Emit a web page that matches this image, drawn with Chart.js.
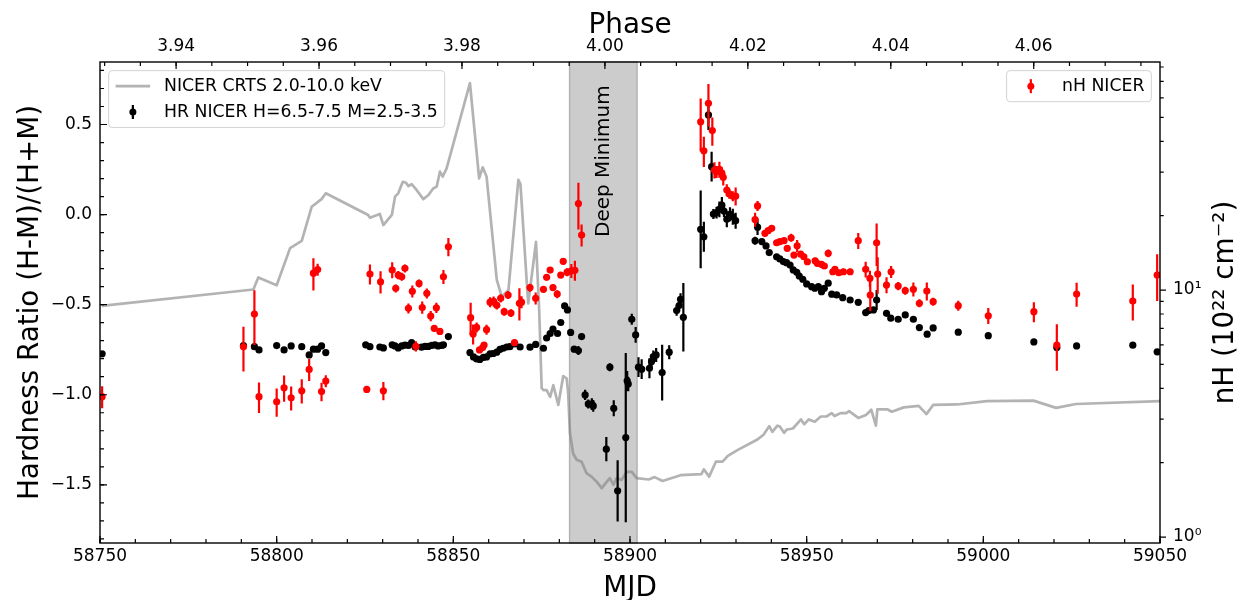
<!DOCTYPE html>
<html><head><meta charset="utf-8">
<script src="https://cdn.jsdelivr.net/npm/chart.js@4.4.1/dist/chart.umd.min.js"></script>
<style>html,body{margin:0;padding:0;background:#fff;}canvas{display:block;}</style>
</head><body>
<canvas id="c" width="1241" height="600"></canvas>
<script>
// ---------------- data ----------------
const crtsLabel = 'NICER CRTS 2.0-10.0 keV';
const crtsMjd = [58750.5,58793.4,58794.8,58800.0,58803.8,58807.1,58809.9,58812.7,58813.9,58825.9,58826.4,58829.2,58830.2,58832.6,58833.5,58834.4,58835.7,58836.6,58837.3,58838.2,58839.6,58841.5,58842.9,58844.3,58845.3,58846.2,58847.0,58848.1,58854.7,58857.3,58858.3,58859.4,58862.3,58863.7,58865.6,58868.4,58869.0,58870.8,58871.2,58873.4,58874.3,58875.0,58875.5,58876.4,58877.4,58878.3,58879.7,58881.1,58882.1,58882.5,58883.0,58883.9,58884.9,58886.3,58887.7,58889.1,58890.6,58892.0,58893.4,58894.3,58895.3,58896.2,58897.6,58899.1,58900.5,58901.9,58905.3,58907.0,58909.2,58914.3,58920.2,58920.9,58922.4,58924.3,58926.2,58927.7,58930.4,58935.8,58937.8,58939.4,58940.3,58941.7,58942.4,58943.6,58944.4,58946.1,58948.4,58949.3,58950.6,58952.3,58954.0,58955.6,58957.1,58957.9,58959.6,58961.2,58962.0,58964.6,58966.8,58968.3,58969.6,58970.0,58972.8,58974.1,58977.5,58981.7,58983.9,58985.8,58992.6,59001.0,59014.2,59020.6,59026.2,59050.0];
const crtsRate = [49.3,52.7,55.2,53.6,61.3,62.8,69.9,71.5,72.7,68.2,67.6,68.4,66.1,68.2,72.0,72.7,75.1,74.9,74.2,74.6,73.4,71.5,72.3,73.7,74.1,77.2,76.2,77.9,95.6,75.8,78.1,76.2,54.7,51.2,52.6,75.5,74.6,54.0,49.8,62.6,48.4,32.2,31.8,31.8,30.4,32.8,28.7,34.7,34.2,31.1,22.9,18.6,17.3,16.9,14.5,13.8,12.7,11.4,12.7,13.5,12.1,13.5,13.1,14.8,14.8,13.5,13.2,13.7,12.9,14.1,14.3,15.3,13.8,16.9,16.9,18.1,19.3,21.4,22.5,24.3,23.1,24.4,24.2,22.9,23.6,23.8,25.7,24.7,25.7,25.2,26.3,26.3,27.0,26.4,27.0,27.0,27.4,26.0,26.6,27.7,24.4,27.8,27.8,27.3,28.2,28.5,26.8,28.7,28.8,29.5,29.6,28.1,28.9,29.5];

const hrLabel = 'HR NICER H=6.5-7.5 M=2.5-3.5';
const hrMjd = [58750.6,58790.6,58793.7,58795.0,58800.0,58802.1,58804.1,58807.1,58809.2,58810.4,58811.6,58812.7,58813.9,
58825.2,58826.4,58829.2,58830.2,58832.7,58833.5,58834.4,58835.4,58836.3,58837.3,58838.2,58839.2,58841.0,58842.0,58842.9,58843.9,58844.8,58845.7,58846.7,58847.2,58848.6,
58854.7,58855.7,58856.6,58857.5,58858.5,58859.4,58860.4,58861.3,58862.3,58863.2,58864.1,58865.1,58866.0,58867.4,58868.9,58871.7,58873.3,58875.5,58876.4,58877.4,58878.2,58879.5,58880.4,58881.5,58882.3,
58883.2,58884.2,58885.4,58886.3,58887.3,58888.2,58889.2,58889.6,58893.3,58894.3,58895.4,58896.5,58898.8,58899.2,58899.5,58900.5,58901.6,
58902.4,58903.3,58905.5,58906.1,58906.6,58907.4,58909.1,58911.1,58913.2,58913.9,58914.3,58915.1,
58920.0,58920.9,58922.2,58923.1,58923.6,58924.5,58925.3,58926.0,58926.6,58927.4,58928.3,58929.1,58929.9,
58935.4,58936.1,58937.3,58938.5,58939.4,58941.5,58942.4,58943.4,58944.3,58945.3,58946.2,58947.2,58947.9,58948.9,58950.0,58951.4,58952.3,58953.3,58954.2,58955.0,58956.1,58957.1,58958.5,58960.2,58962.3,58964.6,58966.7,58967.6,58968.9,58969.8,58972.6,58973.8,58975.9,58977.9,58980.2,58981.9,58984.1,58985.8,58992.9,59001.4,59014.3,59020.8,59026.4,59042.3,59049.2];
const hrVal = [-0.773,-0.727,-0.733,-0.751,-0.727,-0.751,-0.729,-0.733,-0.779,-0.747,-0.747,-0.729,-0.766,
-0.723,-0.733,-0.735,-0.740,-0.723,-0.729,-0.740,-0.729,-0.725,-0.726,-0.711,-0.735,-0.736,-0.732,-0.732,-0.726,-0.723,-0.729,-0.726,-0.723,-0.677,
-0.766,-0.790,-0.801,-0.804,-0.793,-0.790,-0.773,-0.771,-0.764,-0.748,-0.742,-0.735,-0.733,-0.718,-0.735,-0.736,-0.721,-0.742,-0.685,-0.660,-0.635,-0.660,-0.599,-0.507,-0.529,
-0.654,-0.747,-0.755,-0.677,-1.001,-1.051,-1.052,-1.062,-1.302,-0.847,-1.075,-1.533,-1.238,-0.923,-0.940,-0.581,-0.668,
-0.847,-0.858,-0.853,-0.816,-0.788,-0.779,-0.877,-0.764,-0.533,-0.505,-0.470,-0.570,
-0.082,-0.123,0.553,0.266,0.003,0.011,0.029,0.053,0.020,-0.026,0.002,-0.012,-0.034,
-0.145,-0.070,-0.150,-0.174,-0.211,-0.234,-0.246,-0.261,-0.267,-0.280,-0.307,-0.320,-0.341,-0.359,-0.385,-0.400,-0.409,-0.400,-0.428,-0.409,-0.381,-0.442,-0.446,-0.461,-0.474,-0.487,-0.544,-0.533,-0.529,-0.474,-0.548,-0.575,-0.581,-0.557,-0.581,-0.627,-0.664,-0.629,-0.653,-0.672,-0.707,-0.738,-0.729,-0.725,-0.762];
const hrErr = [0.012,0.012,0.012,0.012,0.012,0.012,0.012,0.012,0.012,0.012,0.012,0.012,0.012,
0.01,0.01,0.01,0.01,0.01,0.01,0.01,0.01,0.01,0.01,0.01,0.01,0.01,0.01,0.01,0.01,0.01,0.01,0.01,0.01,0.01,
0.01,0.01,0.01,0.01,0.01,0.01,0.01,0.01,0.01,0.01,0.01,0.01,0.01,0.01,0.01,0.01,0.01,0.01,0.01,0.01,0.01,0.01,0.01,0.012,0.012,
0.012,0.017,0.025,0.015,0.028,0.025,0.033,0.033,0.067,0.022,0.044,0.17,0.47,0.055,0.04,0.03,0.044,
0.055,0.055,0.055,0.033,0.033,0.039,0.155,0.039,0.028,0.033,0.033,0.19,
0.216,0.083,0.083,0.083,0.028,0.033,0.044,0.044,0.033,0.044,0.039,0.044,0.044,
0.022,0.044,0.015,0.012,0.012,0.012,0.012,0.012,0.012,0.012,0.012,0.012,0.012,0.012,0.012,0.012,0.012,0.012,0.012,0.012,0.012,0.012,0.012,0.012,0.012,0.012,0.012,0.012,0.012,0.055,0.012,0.012,0.012,0.012,0.012,0.012,0.012,0.012,0.012,0.012,0.012,0.012,0.012,0.012,0.012];

const nhLabel = 'nH NICER';
const nhMjd = [58750.6,58790.6,58793.7,58795.0,58800.0,58802.1,58804.1,58807.1,58809.2,58810.4,58811.6,58812.7,58813.9,
58825.5,58826.4,58829.4,58830.2,58832.7,58833.7,58834.4,58835.4,58836.3,58837.3,58838.4,58839.4,58840.3,58841.2,58842.5,58843.6,58844.6,58845.2,58846.2,58847.2,58848.6,
58854.9,58855.6,58856.6,58857.4,58858.3,58858.7,58859.4,58860.4,58861.4,58862.3,58863.4,58864.4,58865.5,58866.3,58867.3,58868.7,58869.3,58871.7,58873.3,58875.5,58876.4,58877.4,58878.2,58879.4,58880.4,58881.1,58882.2,58883.4,58884.4,58885.4,58886.3,
58920.0,58920.9,58922.2,58923.3,58923.9,58924.5,58925.3,58926.0,58926.4,58927.4,58928.1,58929.1,58929.9,
58935.4,58936.1,58938.2,58939.1,58940.1,58941.5,58942.4,58943.6,58944.5,58945.6,58946.4,58947.3,58948.3,58949.2,58950.2,58952.4,58953.0,58954.2,58955.0,58956.1,58957.4,58958.0,58959.1,58960.4,58962.3,58964.6,58966.7,58967.9,58968.0,58969.8,58970.1,58972.6,58973.9,58975.9,58977.9,58980.2,58981.9,58984.0,58985.8,58992.9,59001.4,59014.3,59020.8,59026.4,59042.3,59049.2];
const nhVal = [3.70,5.89,7.99,3.70,3.53,4.02,3.66,3.91,4.77,11.7,12.1,3.88,4.28,
3.96,11.6,10.8,3.91,12.05,10.16,11.50,11.32,12.24,8.43,9.88,5.92,10.64,8.50,9.70,7.85,7.00,8.48,6.80,11.32,14.97,
7.73,6.64,7.06,5.72,5.85,5.99,6.91,8.93,9.00,8.67,9.26,8.17,9.55,8.07,6.12,8.84,8.93,10.23,9.26,10.07,11.26,12.05,10.23,9.63,11.50,13.07,11.81,11.96,12.02,22.4,16.7,
48.0,36.6,57.0,44.2,30.6,30.1,30.8,29.7,28.6,25.4,24.5,24.0,24.0,
19.3,21.9,16.97,17.39,17.78,15.54,15.69,15.84,14.75,16.28,13.86,15.11,13.99,13.64,13.02,13.14,12.83,12.71,12.51,14.08,11.86,12.13,11.75,11.86,11.86,15.84,12.13,11.15,9.55,15.54,11.61,10.48,11.86,10.38,9.94,10.07,8.84,9.91,8.97,8.64,7.87,8.17,5.99,9.63,9.03,11.50];
const nhErr = [0.38,1.21,2.0,0.52,0.46,0.49,0.41,0.44,0.49,1.74,0.68,0.33,0.24,
0.07,1.08,1.11,0.33,0.90,0.38,0.43,0.42,0.46,0.39,0.55,0.28,0.40,0.48,0.45,0.37,0.20,0.40,0.19,0.74,1.26,
1.15,0.62,0.33,0.16,0.16,0.17,0.32,0.42,0.42,0.32,0.35,0.30,0.36,0.30,0.17,1.32,0.50,0.38,0.52,0.28,0.31,0.34,0.29,0.36,0.32,0.37,0.44,0.78,1.12,4.8,1.71,
11.6,5.1,11.2,5.8,2.3,1.7,2.3,1.7,2.1,1.4,1.1,1.1,2.0,
1.26,1.02,0.47,0.49,0.50,0.43,0.44,0.44,0.41,0.61,0.39,0.84,0.39,0.38,0.36,0.37,0.36,0.36,0.35,0.52,0.33,0.34,0.33,0.33,0.33,1.18,0.90,0.83,1.33,3.04,1.95,0.78,0.66,0.39,0.37,0.66,0.33,0.83,0.33,0.40,0.59,0.76,1.28,1.08,1.51,2.47];

const mjdTicks = [58750, 58800, 58850, 58900, 58950, 59000, 59050];
const phaseTicks = [3.94, 3.96, 3.98, 4.00, 4.02, 4.04, 4.06];
const hrTicks = [-1.5, -1.0, -0.5, 0.0, 0.5];
const nhTicks = [1, 10];
const deepMinimum = [58882.9, 58902.0];
const deepMinimumLabel = 'Deep Minimum';
const PERIOD = 2022.7, MJD_PHASE4 = 58892.9;
const titles = { x: 'MJD', x2: 'Phase', y: 'Hardness Ratio (H-M)/(H+M)', yNH: 'nH (10\u00b2\u00b2 cm\u207b\u00b2)' };

// ---------------- helpers ----------------
const MJD_MIN = 58750, MJD_MAX = 59050;
const phaseOf = m => 4 + (m - MJD_PHASE4) / PERIOD;
const FONT = '"DejaVu Sans", sans-serif';
function range(a, b, s) { const r = []; const n = Math.round((b - a) / s); for (let i = 0; i <= n; i++) r.push(+(a + i * s).toFixed(5)); return r; }
const sup = { '0': '\u2070', '1': '\u00b9', '2': '\u00b2', '3': '\u00b3', '-': '\u207b' };
const toSup = s => String(s).split('').map(c => sup[c] || c).join('');

Chart.defaults.font.family = FONT;
Chart.defaults.font.size = 17;
Chart.defaults.color = '#000';

function inRange(scale, v) { const lo = Math.min(scale.min, scale.max), hi = Math.max(scale.min, scale.max); return v >= lo - 1e-9 && v <= hi + 1e-9; }
function drawTicks(ctx, a, scale, values, len, side) {
  ctx.beginPath();
  values.forEach(v => {
    if (!inRange(scale, v)) return;
    const p = scale.getPixelForValue(v);
    if (side === 'left') { ctx.moveTo(a.left, p); ctx.lineTo(a.left + len, p); }
    else if (side === 'right') { ctx.moveTo(a.right, p); ctx.lineTo(a.right + len, p); }
    else if (side === 'bottom') { ctx.moveTo(p, a.bottom); ctx.lineTo(p, a.bottom - len); }
    else { ctx.moveTo(p, a.top); ctx.lineTo(p, a.top + len); }
  });
  ctx.stroke();
}
function roundRect(ctx, x, y, w, h, r) {
  ctx.beginPath(); ctx.moveTo(x + r, y); ctx.lineTo(x + w - r, y); ctx.arcTo(x + w, y, x + w, y + r, r);
  ctx.lineTo(x + w, y + h - r); ctx.arcTo(x + w, y + h, x + w - r, y + h, r); ctx.lineTo(x + r, y + h);
  ctx.arcTo(x, y + h, x, y + h - r, r); ctx.lineTo(x, y + r); ctx.arcTo(x, y, x + r, y, r); ctx.closePath();
}
function drawLegend(ctx, anchorX, top, alignRight, entries) {
  const fs = 17.3, pad = 0.4 * fs, hl = 2 * fs, hp = 0.8 * fs, rowH = 17.2, sp = 0.5 * fs;
  ctx.font = fs + 'px ' + FONT;
  const W = Math.max(...entries.map(e => ctx.measureText(e.label).width));
  const bw = pad + hl + hp + W + pad, bh = 2 * pad + entries.length * rowH + (entries.length - 1) * sp;
  const left = alignRight ? anchorX - bw : anchorX;
  roundRect(ctx, left, top, bw, bh, 0.2 * fs);
  ctx.fillStyle = 'rgba(255,255,255,0.8)'; ctx.fill();
  ctx.strokeStyle = '#d3d3d3'; ctx.lineWidth = 1; ctx.stroke();
  entries.forEach((e, i) => {
    const rt = top + pad + i * (rowH + sp), cy = rt + rowH / 2, hx = left + pad;
    if (e.kind === 'line') {
      ctx.strokeStyle = e.color; ctx.lineWidth = 2.7; ctx.beginPath(); ctx.moveTo(hx, cy); ctx.lineTo(hx + hl, cy); ctx.stroke();
    } else {
      const mx = hx + hl / 2;
      ctx.strokeStyle = e.color; ctx.lineWidth = 2.2; ctx.beginPath(); ctx.moveTo(mx, cy - 7); ctx.lineTo(mx, cy + 7); ctx.stroke();
      ctx.fillStyle = e.color; ctx.beginPath(); ctx.arc(mx, cy, 3.5, 0, 2 * Math.PI); ctx.fill();
    }
    ctx.fillStyle = '#000'; ctx.textAlign = 'left'; ctx.textBaseline = 'alphabetic';
    ctx.fillText(e.label, hx + hl + hp, rt + 0.76 * fs);
  });
}

const decor = {
  id: 'decor',
  beforeDatasetsDraw(chart) {
    const { ctx, chartArea: a, scales } = chart;
    const x0 = scales.x.getPixelForValue(deepMinimum[0]), x1 = scales.x.getPixelForValue(deepMinimum[1]);
    ctx.save();
    ctx.fillStyle = '#cccccc'; ctx.fillRect(x0, a.top, x1 - x0, a.bottom - a.top);
    ctx.strokeStyle = '#b0b0b0'; ctx.lineWidth = 1.4; ctx.strokeRect(x0, a.top, x1 - x0, a.bottom - a.top);
    ctx.restore();
  },
  beforeDatasetDraw(chart, args) {
    const ds = chart.data.datasets[args.index];
    if (!ds.errors) return;
    const { ctx, chartArea: a } = chart;
    const xs = chart.scales[args.meta.xAxisID], ys = chart.scales[args.meta.yAxisID];
    ctx.save();
    ctx.beginPath(); ctx.rect(a.left, a.top, a.right - a.left, a.bottom - a.top); ctx.clip();
    ctx.strokeStyle = ds.borderColor; ctx.lineWidth = 2.2;
    ctx.beginPath();
    ds.data.forEach((p, i) => {
      const e = ds.errors[i]; if (!e) return;
      const px = xs.getPixelForValue(p.x);
      ctx.moveTo(px, ys.getPixelForValue(p.y - e)); ctx.lineTo(px, ys.getPixelForValue(p.y + e));
    });
    ctx.stroke();
    ctx.restore();
  },
  afterDatasetsDraw(chart) {
    const { ctx, chartArea: a, scales } = chart;
    ctx.save();
    // deep minimum label
    const xm = (scales.x.getPixelForValue(deepMinimum[0]) + scales.x.getPixelForValue(deepMinimum[1])) / 2;
    ctx.save(); ctx.translate(xm + 6, 237); ctx.rotate(-Math.PI / 2);
    ctx.font = '20px ' + FONT; ctx.fillStyle = '#000'; ctx.textAlign = 'left'; ctx.textBaseline = 'alphabetic';
    ctx.fillText(deepMinimumLabel, 0, 0); ctx.restore();
    // frame
    ctx.strokeStyle = '#000'; ctx.lineWidth = 1.4;
    ctx.strokeRect(a.left, a.top, a.right - a.left, a.bottom - a.top);
    // ticks
    ctx.lineWidth = 1.2;
    drawTicks(ctx, a, scales.y, hrTicks, 7, 'left');
    drawTicks(ctx, a, scales.y, range(-1.8, 0.8, 0.1), 4, 'left');
    drawTicks(ctx, a, scales.x, mjdTicks, 7, 'bottom');
    drawTicks(ctx, a, scales.x, range(58750, 59050, 10), 4, 'bottom');
    drawTicks(ctx, a, scales.x2, phaseTicks, 7, 'top');
    drawTicks(ctx, a, scales.x2, range(3.93, 4.075, 0.005), 4, 'top');
    drawTicks(ctx, a, scales.yNH, nhTicks, 6, 'right');
    drawTicks(ctx, a, scales.yNH, [2,3,4,5,6,7,8,9,20,30,40,50,60,70,80,90], 3.7, 'right');
    // legends
    const ds = chart.data.datasets;
    drawLegend(ctx, a.left + 8.65, a.top + 8.65, false, [
      { label: ds[2].label, kind: 'line', color: ds[2].borderColor },
      { label: ds[1].label, kind: 'err', color: ds[1].borderColor }
    ]);
    drawLegend(ctx, a.right - 8.65, a.top + 8.65, true, [
      { label: ds[0].label, kind: 'err', color: ds[0].borderColor }
    ]);
    // axis titles
    ctx.fillStyle = '#000'; ctx.font = '27.8px ' + FONT; ctx.textAlign = 'center'; ctx.textBaseline = 'alphabetic';
    const cx = (a.left + a.right) / 2, cy = (a.top + a.bottom) / 2;
    ctx.fillText(titles.x2, cx, 33);
    ctx.fillText(titles.x, cx, 596);
    ctx.save(); ctx.translate(38, cy); ctx.rotate(-Math.PI / 2); ctx.fillText(titles.y, 0, 0); ctx.restore();
    ctx.save(); ctx.translate(1233, cy); ctx.rotate(-Math.PI / 2); ctx.fillText(titles.yNH, 0, 0); ctx.restore();
    ctx.restore();
  }
};

const noGrid = { display: false, drawTicks: false };
const noBorder = { display: false };

new Chart(document.getElementById('c'), {
  type: 'scatter',
  data: {
    datasets: [
      { label: nhLabel, data: nhMjd.map((x, i) => ({ x, y: nhVal[i] })), errors: nhErr,
        xAxisID: 'x', yAxisID: 'yNH', backgroundColor: '#ff0000', borderColor: '#ff0000',
        pointRadius: 3.6, pointHoverRadius: 3.6, pointBorderWidth: 0, order: 1, clip: 0 },
      { label: hrLabel, data: hrMjd.map((x, i) => ({ x, y: hrVal[i] })), errors: hrErr,
        xAxisID: 'x', yAxisID: 'y', backgroundColor: '#000000', borderColor: '#000000',
        pointRadius: 3.6, pointHoverRadius: 3.6, pointBorderWidth: 0, order: 2, clip: 0 },
      { label: crtsLabel, data: crtsMjd.map((x, i) => ({ x, y: crtsRate[i] })),
        xAxisID: 'x', yAxisID: 'yCR', showLine: true, borderColor: 'rgba(128,128,128,0.6)', borderWidth: 2.7,
        borderJoinStyle: 'round', pointRadius: 0, pointHoverRadius: 0, order: 3, clip: 0, fill: false }
    ]
  },
  options: {
    responsive: false, animation: false, events: [],
    layout: { padding: 0 },
    plugins: { legend: { display: false }, tooltip: { enabled: false }, title: { display: false } },
    scales: {
      x: { type: 'linear', position: 'bottom', min: MJD_MIN, max: MJD_MAX, bounds: 'data',
        afterBuildTicks: s => { s.ticks = mjdTicks.map(v => ({ value: v })); },
        ticks: { callback: v => String(v), maxRotation: 0, autoSkip: false, padding: 3 },
        grid: noGrid, border: noBorder, afterFit: s => { s.height = 57; } },
      x2: { type: 'linear', position: 'top', min: phaseOf(MJD_MIN), max: phaseOf(MJD_MAX), bounds: 'data',
        afterBuildTicks: s => { s.ticks = phaseTicks.map(v => ({ value: v })); },
        ticks: { callback: v => v.toFixed(2), maxRotation: 0, autoSkip: false, padding: 5 },
        grid: noGrid, border: noBorder, afterFit: s => { s.height = 62; } },
      y: { type: 'linear', position: 'left', min: -1.823, max: 0.847, bounds: 'data',
        afterBuildTicks: s => { s.ticks = hrTicks.map(v => ({ value: v })); },
        ticks: { callback: v => (v < 0 ? '\u2212' : '') + Math.abs(v).toFixed(1), autoSkip: false, padding: 8 },
        grid: noGrid, border: noBorder, afterFit: s => { s.width = 100; } },
      yNH: { type: 'logarithmic', position: 'right', min: 0.946, max: 83.8, bounds: 'data',
        afterBuildTicks: s => { s.ticks = nhTicks.map(v => ({ value: v, major: true })); },
        ticks: { callback: v => '10' + toSup(Math.round(Math.log10(v))), autoSkip: false, padding: 13 },
        grid: noGrid, border: noBorder, afterFit: s => { s.width = 81; } },
      yCR: { type: 'linear', display: false, min: 0, max: 100 }
    }
  },
  plugins: [decor]
});
</script>
</body></html>
